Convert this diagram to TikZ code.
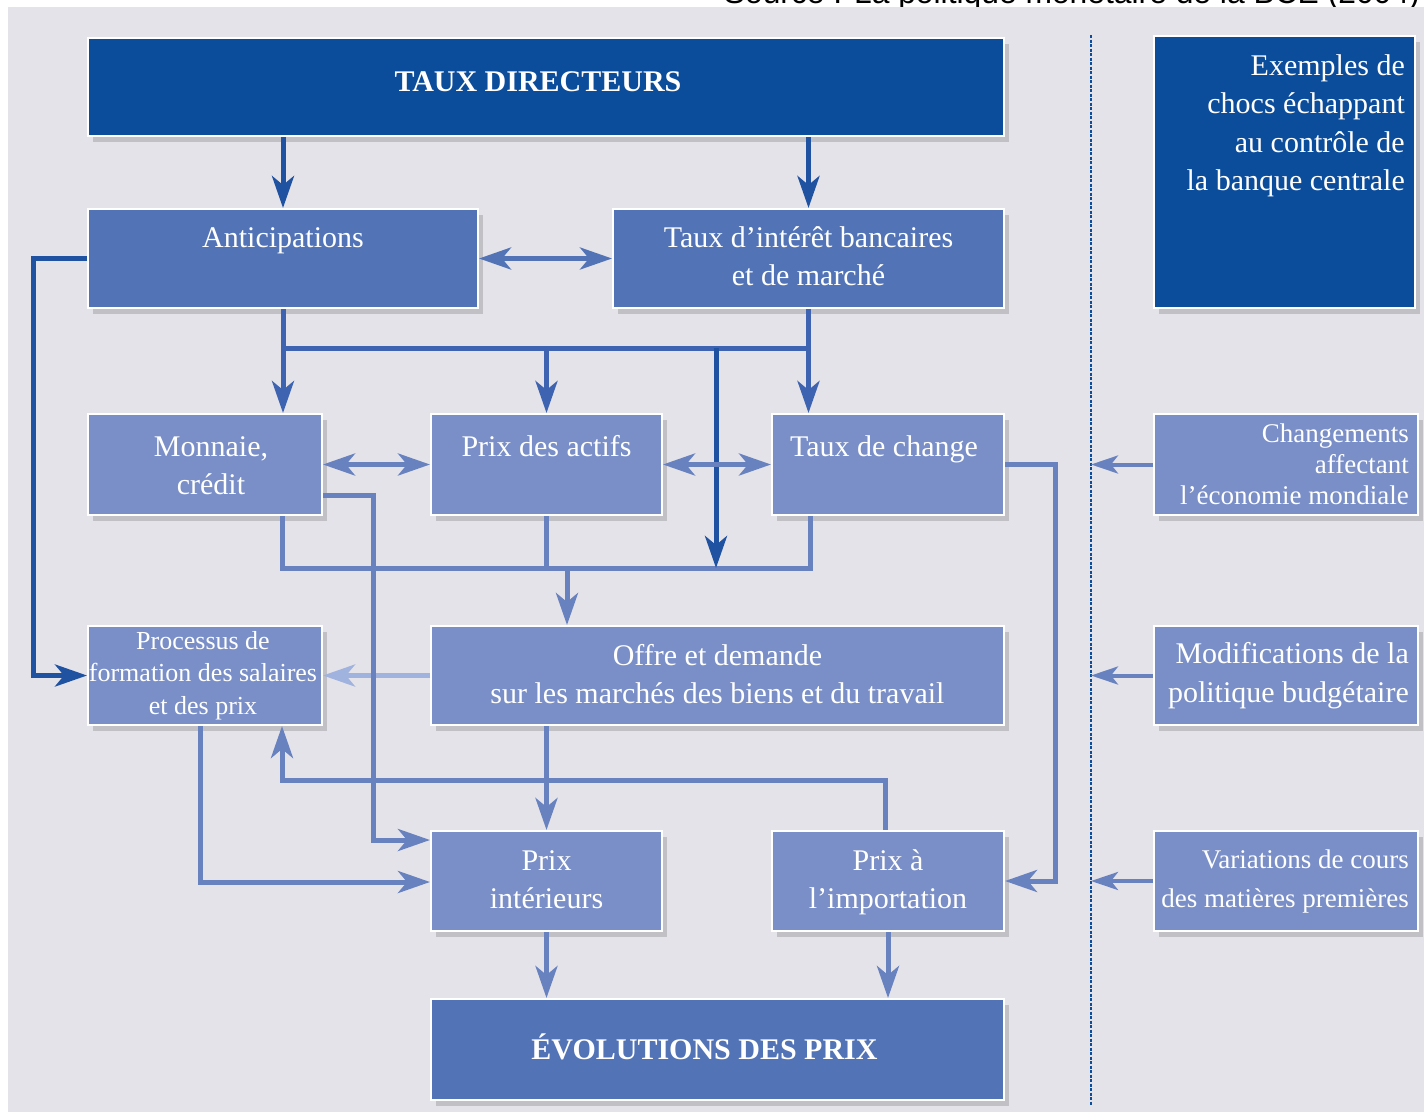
\documentclass[tikz,border=0pt]{standalone}
\usepackage{fontspec}
\setmainfont{Liberation Serif}
\newfontfamily\srcfont{Liberation Sans}
\usetikzlibrary{arrows.meta,shadows}
\definecolor{bgray}{RGB}{228,227,233}
\definecolor{bdark}{RGB}{11,76,155}
\definecolor{bmed}{RGB}{82,116,182}
\definecolor{blight}{RGB}{122,143,199}
\definecolor{adark}{RGB}{32,82,162}
\definecolor{amed}{RGB}{62,99,176}
\definecolor{alight}{RGB}{104,130,192}
\definecolor{avlight}{RGB}{160,178,222}
\begin{document}
\begin{tikzpicture}[x=1pt,y=-1pt,
  >={Stealth[length=32pt,width=22pt,inset=9pt]},
  box/.style={draw=white, line width=2pt, anchor=north west, inner sep=0pt,
    drop shadow={shadow xshift=5pt, shadow yshift=-6pt, opacity=0.3, fill=black!55}},
  darkbox/.style={box, fill=bdark},
  medbox/.style={box, fill=bmed},
  lightbox/.style={box, fill=blight},
  txt/.style={text=white, inner sep=0pt, align=center, font=\fontsize{30}{38.5}\selectfont},
  toptxt/.style={txt, anchor=north},
  sidetxt/.style={txt, align=right, anchor=east},
  dconn/.style={draw=adark, line width=5pt, ->},
  mconn/.style={draw=amed, line width=5pt, ->},
  mline/.style={draw=amed, line width=5pt},
  lconn/.style={draw=alight, line width=5pt, ->},
  lline/.style={draw=alight, line width=5pt},
  vlconn/.style={draw=avlight, line width=5pt, ->},
  rconn/.style={draw=alight, line width=4pt, -{Stealth[length=27pt,width=18pt,inset=7pt]}},
  dashline/.style={draw=bdark, line width=1.6pt, dash pattern=on 3pt off 1.5pt}
]
\useasboundingbox (0,0) rectangle (1424,1112);
\clip (0,0) rectangle (1424,1112);
\fill[white] (0,0) rectangle (1424,1112);
\node[font=\srcfont\fontsize{31.8}{36}\selectfont, anchor=base east, inner sep=0pt, text=black] (src) at (1420,3) {Source : La politique monétaire de la BCE (2004)};
\fill[bgray] (8,7) rectangle (1424,1112);

% boxes
\node[darkbox, minimum width=916pt, minimum height=98pt] (taux) at (87,37) {};
\node[darkbox, minimum width=261pt, minimum height=272pt] (exemples) at (1153,35) {};
\node[medbox, minimum width=390pt, minimum height=99pt] (antic) at (87,208) {};
\node[medbox, minimum width=391pt, minimum height=99pt] (interet) at (612,208) {};
\node[lightbox, minimum width=234pt, minimum height=101pt] (monnaie) at (87,413) {};
\node[lightbox, minimum width=231pt, minimum height=101pt] (actifs) at (430,413) {};
\node[lightbox, minimum width=232pt, minimum height=101pt] (change) at (771,413) {};
\node[lightbox, minimum width=234pt, minimum height=99pt] (proc) at (87,625) {};
\node[lightbox, minimum width=573pt, minimum height=99pt] (offre) at (430,625) {};
\node[lightbox, minimum width=231pt, minimum height=100pt] (interieurs) at (430,830) {};
\node[lightbox, minimum width=232pt, minimum height=100pt] (import) at (771,830) {};
\node[medbox, minimum width=573pt, minimum height=101pt] (evol) at (430,998) {};
\node[lightbox, minimum width=264pt, minimum height=101pt] (chg) at (1153,413) {};
\node[lightbox, minimum width=264pt, minimum height=99pt] (modif) at (1153,625) {};
\node[lightbox, minimum width=264pt, minimum height=100pt] (var) at (1153,830) {};

% texts
\node[txt, font=\bfseries\fontsize{30}{36}\selectfont] (tauxT) at ([xshift=-8pt,yshift=5pt]taux.center) {TAUX DIRECTEURS};
\node[txt, align=right, anchor=north east] (exemplesT) at (1405,48) {\strut Exemples de\\chocs échappant\\au contrôle de\\la banque centrale};
\node[toptxt] (anticT) at ([yshift=-12pt]antic.north) {\strut Anticipations};
\node[toptxt] (interetT) at ([yshift=-12pt]interet.north) {\strut Taux d’intérêt bancaires\\et de marché};
\node[toptxt] (monnaieT) at ([xshift=6pt,yshift=-16pt]monnaie.north) {\strut Monnaie,\\crédit};
\node[toptxt] (actifsT) at ([yshift=-16pt]actifs.north) {\strut Prix des actifs};
\node[toptxt] (changeT) at ([xshift=-4pt,yshift=-16pt]change.north) {\strut Taux de change};
\node[txt, font=\fontsize{26}{32.5}\selectfont] (procT) at ([xshift=-2pt]proc.center) {Processus de\\formation des salaires\\et des prix};
\node[toptxt] (offreT) at ([yshift=-13pt]offre.north) {\strut Offre et demande\\sur les marchés des biens et du travail};
\node[toptxt] (interieursT) at ([yshift=-13pt]interieurs.north) {\strut Prix\\intérieurs};
\node[toptxt] (importT) at ([yshift=-13pt]import.north) {\strut Prix à\\l’importation};
\node[txt, font=\bfseries\fontsize{30}{36}\selectfont] (evolT) at ([xshift=-13pt,yshift=3pt]evol.center) {ÉVOLUTIONS DES PRIX};
\node[sidetxt, font=\fontsize{27}{31}\selectfont] (chgT) at ([xshift=-10pt]chg.east) {Changements\\affectant\\l’économie mondiale};
\node[sidetxt] (modifT) at ([xshift=-10pt]modif.east) {Modifications de la\\politique budgétaire};
\node[sidetxt, font=\fontsize{27}{39}\selectfont] (varT) at ([xshift=-10pt]var.east) {Variations de cours\\des matières premières};

% dashed separator
\coordinate (d1) at (1091,35);
\coordinate (d2) at (1091,1105);
\draw[dashline] (d1) -- (d2);

% coordinates for routing
\coordinate (b1) at (282,348);
\coordinate (b2) at (810,348);
\coordinate (b3) at (716,348);
\coordinate (c1) at (282,568);
\coordinate (c2) at (810,568);
\coordinate (c3) at (716,568);
\coordinate (c4) at (567,568);
\coordinate (l1) at (33,258);
\coordinate (m1) at (373,495);
\coordinate (m2) at (373,840);
\coordinate (p1) at (200,882);
\coordinate (q1) at (885,780);
\coordinate (q2) at (282,780);
\coordinate (r1) at (1055,463);
\coordinate (r2) at (1055,880);

% connectors
\draw[dconn] (taux.south -| antic.north) -- (antic.north);
\draw[dconn] (taux.south -| interet.north) -- (interet.north);
\draw[draw=bmed, line width=5pt, <->] (antic.east) -- (interet.west);
\draw[mline] (b1) -- (b2);
\draw[mconn] (antic.south) -- (antic.south |- monnaie.north);
\draw[mconn] (interet.south) -- (interet.south |- change.north);
\draw[mconn] (actifs.north |- b1) -- (actifs.north);
\draw[lline] (monnaie.south -| c1) -- (c1) -- (c2) -- (change.south -| c2);
\draw[lline] (actifs.south) -- (actifs.south |- c1);
\draw[dconn] (b3) -- (c3);
\draw[lconn] (c4) -- (c4 |- offre.north);
\draw[lconn, <->] (monnaie.east) -- (actifs.west);
\draw[lconn, <->] (actifs.east) -- (change.west);
\draw[dconn] (antic.west) -- (antic.west -| l1) |- (proc.west);
\draw[vlconn] (offre.west) -- (proc.east);
\draw[lconn] (m1 -| monnaie.east) -- (m1) -- (m2) -- (m2 -| interieurs.west);
\draw[lconn] (proc.south -| p1) -- (p1) -- (p1 -| interieurs.west);
\draw[lconn] (interieurs.north |- offre.south) -- (interieurs.north);
\draw[lconn] (q1 |- import.north) -- (q1) -- (q2) -- (q2 |- proc.south);
\draw[lconn] (change.east) -- (change.east -| r1) -- (r2 |- import.east) -- (import.east);
\draw[lconn] (interieurs.south) -- (interieurs.south |- evol.north);
\draw[lconn] (import.south) -- (import.south |- evol.north);
\draw[rconn] (chg.west) -- (chg.west -| d1);
\draw[rconn] (modif.west) -- (modif.west -| d1);
\draw[rconn] (var.west) -- (var.west -| d1);
\end{tikzpicture}
\end{document}
